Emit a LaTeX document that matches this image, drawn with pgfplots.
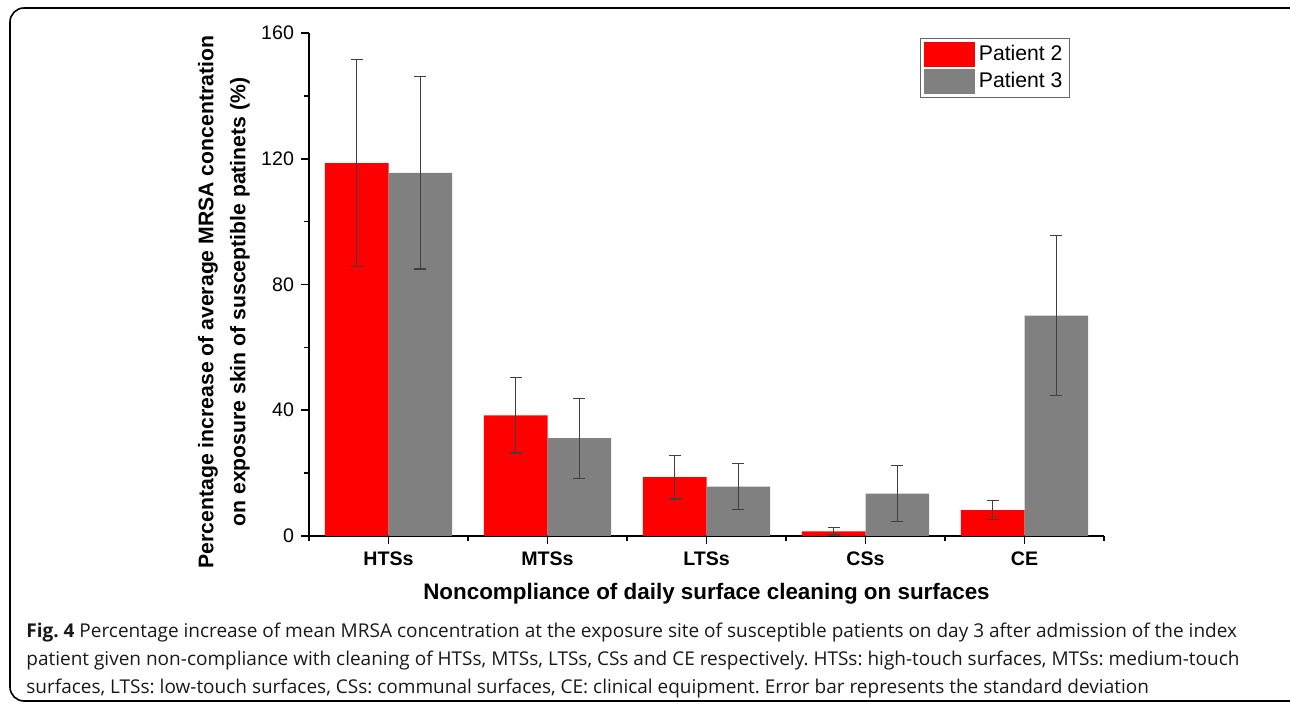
\documentclass[border=0pt]{standalone}
\usepackage{fontspec}
\setmainfont{Liberation Sans}
\newfontfamily\capfont{Open Sans}
\usepackage{pgfplots}
\pgfplotsset{compat=1.18}
\definecolor{pgray}{RGB}{128,128,128}
\begin{document}
\frenchspacing
\begin{tikzpicture}
\useasboundingbox (0,0) rectangle (645pt,-352pt);
\draw[line width=0.8pt, rounded corners=7pt] (5pt,-4pt) rectangle (660pt,-350.5pt);
\begin{axis}[
  at={(154.5pt,-268pt)}, anchor=south west,
  scale only axis, width=397.5pt, height=251.5pt,
  ybar=0pt, bar width=0.4,
  xmin=-0.5, xmax=4.5, ymin=0, ymax=160,
  axis x line=bottom, axis y line=left,
  axis line style={line width=1pt, -},
  xtick={0,1,2,3,4},
  xticklabels={HTSs,MTSs,LTSs,CSs,CE},
  minor xtick={-0.5,0.5,1.5,2.5,3.5,4.5},
  ytick={0,40,80,120,160},
  minor ytick={20,60,100,140},
  tick align=outside,
  major tick length=4pt, minor tick length=2.5pt,
  every tick/.style={black, line width=0.8pt},
  x tick label style={font=\bfseries\fontsize{9.8}{11}\selectfont, yshift=-0.5pt},
  y tick label style={font=\fontsize{9.8}{11}\selectfont},
  /pgf/number format/assume math mode=true,
  xlabel={Noncompliance of daily surface cleaning on surfaces},
  xlabel style={font=\bfseries\fontsize{11.2}{13}\selectfont, at={(axis description cs:0.5,-0.115)}, anchor=center},
  ylabel={Percentage increase of average MRSA concentration\\on exposure skin of susceptible patinets (\%)},
  ylabel style={font=\bfseries\fontsize{10.6}{16}\selectfont, align=center, at={(axis description cs:-0.107,0.465)}, anchor=center},
  legend style={at={(axis description cs:0.769,0.99)}, anchor=north west, draw=gray!80!black, line width=0.5pt, font=\fontsize{10.6}{12}\selectfont, inner xsep=1.5pt, inner ysep=1.2pt, row sep=0.6pt, cells={anchor=west}},
  legend image code/.code={\fill[#1,draw=none] (0pt,-6.3pt) rectangle (25.5pt,6.3pt);},
  error bars/y dir=both, error bars/y explicit,
  error bars/error bar style={black!75, line width=0.6pt},
  error bars/error mark options={black!75, line width=0.6pt, rotate=90, mark size=3pt},
  clip=false
]
\addplot[fill=red, draw=none] coordinates {
  (0,118.6) +- (0,33.0)
  (1,38.4) +- (0,12.0)
  (2,18.7) +- (0,6.9)
  (3,1.5) +- (0,1.2)
  (4,8.2) +- (0,3.0)
};
\addplot[fill=pgray, draw=none] coordinates {
  (0,115.5) +- (0,30.6)
  (1,31.1) +- (0,12.7)
  (2,15.7) +- (0,7.3)
  (3,13.5) +- (0,8.9)
  (4,70.1) +- (0,25.4)
};
\legend{Patient 2, Patient 3}
\end{axis}
\node[anchor=north west, inner sep=0pt, align=left, font=\capfont\fontsize{9.5}{13.9}\selectfont, text=black!90] at (13pt,-311.5pt)
{{\bfseries Fig. 4} Percentage increase of mean MRSA concentration at the exposure site of susceptible patients on day 3 after admission of the index\\
patient given non-compliance with cleaning of HTSs, MTSs, LTSs, CSs and CE respectively. HTSs: high-touch surfaces, MTSs: medium-touch\\
surfaces, LTSs: low-touch surfaces, CSs: communal surfaces, CE: clinical equipment. Error bar represents the standard deviation};
\end{tikzpicture}
\end{document}
